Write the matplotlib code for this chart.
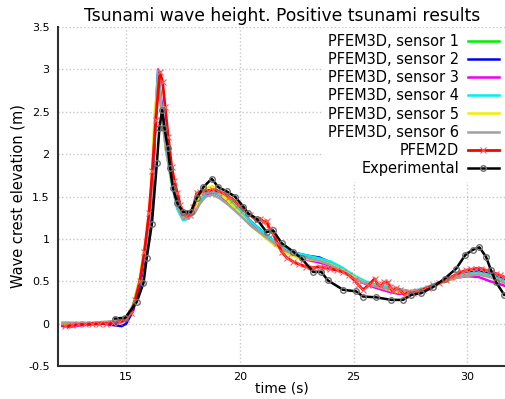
import matplotlib
matplotlib.use("Agg")
import matplotlib.pyplot as plt

# PFEM3D sensors share one time base
t_3d = [12.2, 12.5, 13.0, 13.5, 14.0, 14.5, 14.8, 15.0, 15.3, 15.6, 15.9, 16.1, 16.25, 16.4,
        16.55, 16.75, 17.0, 17.25, 17.5, 17.75, 18.0, 18.25, 18.5, 18.8, 19.1, 19.5, 20.0,
        20.5, 21.0, 21.5, 22.0, 22.5, 23.0, 23.5, 24.0, 24.5, 25.0, 25.5, 26.0, 26.5, 27.0,
        27.5, 28.0, 28.5, 29.0, 29.5, 30.0, 30.5, 31.0, 31.5, 31.8]
sensor1 = [0.0, 0.0, 0.0, 0.0, 0.01, 0.02, 0.03, 0.06, 0.2, 0.5, 0.95, 1.4, 2.2, 2.95, 2.55,
           2.1, 1.72, 1.42, 1.28, 1.27, 1.33, 1.47, 1.55, 1.57, 1.53, 1.46, 1.33, 1.2, 1.08,
           0.97, 0.88, 0.82, 0.79, 0.77, 0.72, 0.64, 0.55, 0.48, 0.45, 0.42, 0.40, 0.38, 0.40,
           0.45, 0.5, 0.55, 0.58, 0.6, 0.56, 0.5, 0.46]
sensor2 = [-0.02, -0.03, -0.01, 0.0, 0.0, -0.02, -0.03, 0.0, 0.15, 0.45, 0.9, 1.35, 2.15, 2.9,
           2.6, 2.15, 1.75, 1.45, 1.3, 1.29, 1.35, 1.48, 1.55, 1.56, 1.52, 1.44, 1.32, 1.2,
           1.08, 0.97, 0.88, 0.83, 0.80, 0.78, 0.72, 0.64, 0.56, 0.49, 0.44, 0.41, 0.39, 0.38,
           0.40, 0.45, 0.5, 0.55, 0.6, 0.62, 0.6, 0.54, 0.48]
sensor3 = [-0.03, -0.04, -0.02, -0.01, 0.0, 0.01, 0.02, 0.05, 0.2, 0.5, 0.95, 1.45, 2.3, 3.0,
           2.6, 2.1, 1.7, 1.4, 1.27, 1.26, 1.32, 1.45, 1.52, 1.55, 1.52, 1.43, 1.3, 1.17, 1.05,
           0.94, 0.85, 0.79, 0.75, 0.72, 0.68, 0.62, 0.54, 0.47, 0.42, 0.38, 0.35, 0.37, 0.40,
           0.45, 0.5, 0.54, 0.56, 0.55, 0.5, 0.46, 0.43]
sensor4 = [0.01, 0.01, 0.0, 0.0, 0.01, 0.02, 0.04, 0.07, 0.22, 0.52, 1.0, 1.5, 2.3, 2.98, 2.55,
           2.05, 1.65, 1.35, 1.22, 1.24, 1.32, 1.46, 1.54, 1.56, 1.52, 1.45, 1.33, 1.2, 1.08,
           0.98, 0.89, 0.83, 0.80, 0.77, 0.73, 0.66, 0.57, 0.50, 0.46, 0.43, 0.41, 0.38, 0.41,
           0.46, 0.51, 0.56, 0.59, 0.60, 0.57, 0.52, 0.48]
sensor5 = [0.0, 0.0, 0.0, 0.0, 0.01, 0.02, 0.03, 0.06, 0.22, 0.55, 1.05, 1.6, 2.5, 2.85, 2.5,
           2.05, 1.68, 1.4, 1.27, 1.27, 1.34, 1.5, 1.6, 1.62, 1.55, 1.44, 1.3, 1.15, 1.04,
           0.93, 0.84, 0.78, 0.76, 0.74, 0.7, 0.63, 0.55, 0.48, 0.44, 0.40, 0.37, 0.36, 0.39,
           0.44, 0.49, 0.54, 0.57, 0.58, 0.55, 0.5, 0.46]
sensor6 = [0.01, 0.01, 0.01, 0.01, 0.02, 0.03, 0.04, 0.06, 0.2, 0.5, 0.95, 1.45, 2.25, 2.9, 2.5,
           2.05, 1.68, 1.38, 1.25, 1.26, 1.3, 1.42, 1.5, 1.52, 1.48, 1.4, 1.28, 1.15, 1.05,
           0.95, 0.86, 0.80, 0.77, 0.74, 0.69, 0.62, 0.54, 0.48, 0.44, 0.41, 0.39, 0.38, 0.40,
           0.45, 0.5, 0.54, 0.57, 0.58, 0.55, 0.5, 0.45]

t_2d = [12.3, 12.6, 12.9, 13.2, 13.5, 13.8, 14.1, 14.4, 14.7, 15.0, 15.2, 15.4, 15.6, 15.8,
        16.0, 16.15, 16.3, 16.48, 16.6, 16.71, 16.85, 17.0, 17.12, 17.25, 17.38, 17.51, 17.65,
        17.8, 17.95, 18.1, 18.25, 18.39, 18.6, 18.83, 19.05, 19.27, 19.5, 19.7, 19.92, 20.15,
        20.45, 20.73, 20.9, 21.02, 21.17, 21.3, 21.46, 21.65, 21.83, 22.05, 22.34, 22.6, 22.92,
        23.2, 23.5, 23.75, 23.95, 24.25, 24.53, 24.8, 25.04, 25.2, 25.41, 25.65, 25.92, 26.05,
        26.2, 26.35, 26.5, 26.6, 26.73, 26.88, 27.02, 27.24, 27.4, 27.6, 27.8, 28.04, 28.25,
        28.48, 28.75, 29.06, 29.3, 29.51, 29.75, 29.95, 30.15, 30.38, 30.6, 30.82, 31.05,
        31.26, 31.45, 31.62, 31.8]
pfem2d = [-0.03, -0.02, -0.01, -0.01, 0.0, 0.0, 0.0, 0.01, 0.02, 0.05, 0.12, 0.28, 0.5, 0.85,
          1.3, 1.8, 2.4, 2.97, 2.85, 2.56, 2.2, 1.85, 1.68, 1.54, 1.4, 1.30, 1.27, 1.28, 1.38,
          1.54, 1.55, 1.56, 1.57, 1.58, 1.56, 1.54, 1.5, 1.46, 1.40, 1.34, 1.28, 1.22, 1.24,
          1.20, 1.21, 1.12, 1.06, 0.95, 0.85, 0.78, 0.73, 0.70, 0.67, 0.66, 0.67, 0.66, 0.65,
          0.63, 0.61, 0.57, 0.51, 0.46, 0.40, 0.45, 0.53, 0.47, 0.44, 0.49, 0.49, 0.43, 0.38,
          0.42, 0.40, 0.34, 0.37, 0.36, 0.38, 0.40, 0.42, 0.45, 0.48, 0.52, 0.55, 0.58, 0.61,
          0.63, 0.64, 0.65, 0.65, 0.63, 0.61, 0.59, 0.57, 0.55, 0.53]

t_exp = [14.5, 14.96, 15.47, 15.76, 15.9, 16.13, 16.35, 16.46, 16.58, 16.68, 16.83, 16.93,
         17.05, 17.25, 17.49, 17.84, 18.1, 18.39, 18.76, 19.05, 19.42, 19.78, 20.15, 20.37,
         20.73, 21.17, 21.46, 21.83, 22.34, 22.71, 23.22, 23.58, 23.87, 24.53, 25.12, 25.41,
         26.0, 26.66, 27.17, 27.53, 27.97, 28.48, 29.0, 29.51, 29.91, 30.23, 30.53, 30.82,
         31.04, 31.26, 31.62]
experimental = [0.06, 0.07, 0.26, 0.48, 0.77, 1.18, 1.90, 2.31, 2.52, 2.31, 2.07, 1.84, 1.60,
                1.42, 1.32, 1.32, 1.48, 1.61, 1.71, 1.61, 1.56, 1.50, 1.38, 1.30, 1.24, 1.08,
                1.10, 0.95, 0.85, 0.77, 0.61, 0.61, 0.51, 0.40, 0.38, 0.32, 0.31, 0.28, 0.28,
                0.34, 0.36, 0.43, 0.53, 0.65, 0.81, 0.87, 0.90, 0.79, 0.63, 0.49, 0.34]

sensors = [sensor1, sensor2, sensor3, sensor4, sensor5, sensor6]
sensor_colors = ['#00ee00', '#0000ee', '#ee00ee', '#00eeee', '#eeee00', '#a0a0a0']

fig = plt.figure(figsize=(5.06, 3.99), dpi=100)
ax = fig.add_axes([0.1146, 0.0827, 0.8854, 0.8496])

for i, s in enumerate(sensors):
    ax.plot(t_3d, s, color=sensor_colors[i], lw=1.8, label='PFEM3D, sensor %d' % (i + 1))
ax.plot(t_2d, pfem2d, color='#ff0000', lw=2, marker='x', ms=4, mew=0.8,
        markeredgecolor='#ff6060', label='PFEM2D')
ax.plot(t_exp, experimental, color='black', lw=1.8, marker='o', ms=4,
        mfc='none', mec='#707070', mew=1, label='Experimental')

ax.set_xlim(12.0, 31.7)
ax.set_ylim(-0.5, 3.5)
ax.set_xticks([15, 20, 25, 30])
ax.set_yticks([-0.5, 0, 0.5, 1, 1.5, 2, 2.5, 3, 3.5])
ax.set_yticklabels(['-0.5', '0', '0.5', '1', '1.5', '2', '2.5', '3', '3.5'])
ax.tick_params(labelsize=8, direction='in', length=0)
ax.tick_params(axis='x', pad=4)
ax.tick_params(axis='y', pad=6)
ax.grid(True, color='#c8c8c8', ls=':', lw=1)
ax.spines['top'].set_visible(False)
ax.spines['right'].set_visible(False)
ax.spines['left'].set_linewidth(1.5)
ax.spines['bottom'].set_linewidth(1.5)
ax.spines['left'].set_color('#303030')
ax.spines['bottom'].set_color('#303030')

ax.set_xlabel('time (s)', fontsize=10, labelpad=0)
ax.set_ylabel('Wave crest elevation (m)', fontsize=10.5, labelpad=2)
ax.set_title('Tsunami wave height. Positive tsunami results', fontsize=12.3, pad=4)

leg = ax.legend(loc='upper right', markerfirst=False, fontsize=10.5, handlelength=2.1,
                labelspacing=0.21, borderaxespad=0.1, handletextpad=0.6,
                frameon=True, facecolor='white', edgecolor='none', framealpha=1)
for txt in leg.get_texts():
    txt.set_ha('right')

fig.savefig('out.png', dpi=100)
